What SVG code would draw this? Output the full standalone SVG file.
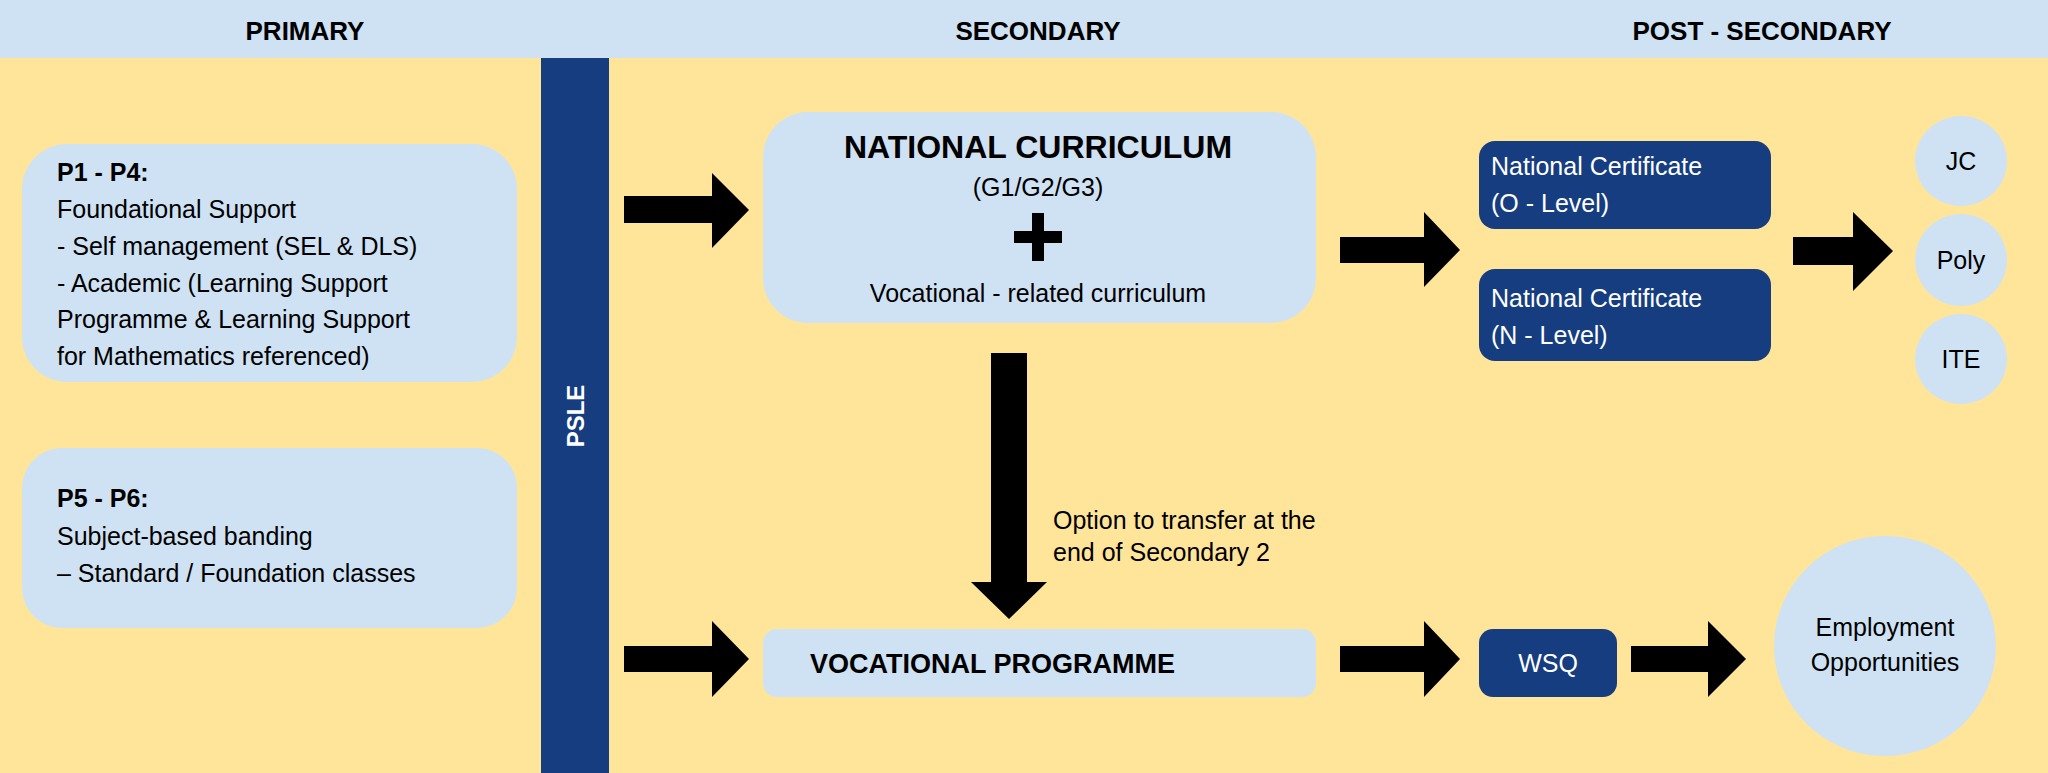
<svg xmlns="http://www.w3.org/2000/svg" width="2048" height="773" viewBox="0 0 2048 773">
<defs><style>
text{font-family:"Liberation Sans",Arial,sans-serif;fill:#000}
.h{font-size:26px;font-weight:bold;text-anchor:middle}
.t{font-size:25px}
.b{font-weight:bold}
.w{fill:#fff}
.lb{fill:#cfe2f3}
.db{fill:#163d80}
.ar{fill:#000}
</style></defs>
<rect width="2048" height="773" fill="#ffe599"/>
<rect width="2048" height="58" class="lb"/>
<text class="h" x="305" y="40">PRIMARY</text>
<text class="h" x="1038" y="40">SECONDARY</text>
<text class="h" x="1762" y="40">POST - SECONDARY</text>
<g id="psle"><rect x="541" y="58" width="68" height="715" class="db"/>
<text class="w b" font-size="24" text-anchor="middle" transform="translate(584,416) rotate(-90)">PSLE</text></g>
<g id="p1p4"><rect x="22" y="144" width="495" height="238" rx="45" class="lb"/>
<text class="t" x="57" y="181"><tspan class="b">P1 - P4:</tspan><tspan x="57" dy="37">Foundational Support</tspan><tspan x="57" dy="37">- Self management (SEL &amp; DLS)</tspan><tspan x="57" dy="37">- Academic (Learning Support</tspan><tspan x="57" dy="36">Programme &amp; Learning Support</tspan><tspan x="57" dy="37">for Mathematics referenced)</tspan></text></g>
<g id="p5p6"><rect x="22" y="448" width="495" height="180" rx="40" class="lb"/>
<text class="t" x="57" y="507"><tspan class="b">P5 - P6:</tspan><tspan x="57" dy="38">Subject-based banding</tspan><tspan x="57" dy="37">– Standard / Foundation classes</tspan></text></g>
<g id="nc"><rect x="763" y="112" width="553" height="211" rx="45" class="lb"/>
<text class="b" font-size="32" x="1038" y="158" text-anchor="middle">NATIONAL CURRICULUM</text>
<text class="t" x="1038" y="196" text-anchor="middle">(G1/G2/G3)</text>
<path d="M1032 213h12v18h18v12h-18v18h-12v-18h-18v-12h18z" fill="#000"/>
<text class="t" x="1038" y="302" text-anchor="middle">Vocational - related curriculum</text></g>
<g id="vp"><rect x="763" y="629" width="553" height="68" rx="14" class="lb"/>
<text class="b" font-size="27" x="810" y="673">VOCATIONAL PROGRAMME</text></g>
<g id="certO"><rect x="1479" y="141" width="292" height="88" rx="16" class="db"/>
<text class="t w" x="1491" y="175"><tspan>National Certificate</tspan><tspan x="1491" dy="37">(O - Level)</tspan></text></g>
<g id="certN"><rect x="1479" y="269" width="292" height="92" rx="16" class="db"/>
<text class="t w" x="1491" y="307"><tspan>National Certificate</tspan><tspan x="1491" dy="37">(N - Level)</tspan></text></g>
<g id="jc"><ellipse cx="1961" cy="161" rx="46" ry="45" class="lb"/><text class="t" x="1961" y="170" text-anchor="middle">JC</text></g>
<g id="poly"><ellipse cx="1961" cy="260" rx="46" ry="46" class="lb"/><text class="t" x="1961" y="269" text-anchor="middle">Poly</text></g>
<g id="ite"><ellipse cx="1961" cy="359" rx="46" ry="45" class="lb"/><text class="t" x="1961" y="368" text-anchor="middle">ITE</text></g>
<g id="wsq"><rect x="1479" y="629" width="138" height="68" rx="14" class="db"/><text class="t w" x="1548" y="672" text-anchor="middle">WSQ</text></g>
<g id="emp"><ellipse cx="1885" cy="646" rx="111" ry="110" class="lb"/>
<text class="t" x="1885" y="636" text-anchor="middle"><tspan>Employment</tspan><tspan x="1885" dy="35">Opportunities</tspan></text></g>
<text class="t" font-size="23" x="1053" y="529"><tspan>Option to transfer at the</tspan><tspan x="1053" dy="32">end of Secondary 2</tspan></text>
<g id="connectors" class="ar">
<path d="M624 196h88v-23l37 37-37 38v-25h-88z"/>
<path d="M624 646h88v-25l37 38-37 38v-25h-88z"/>
<path d="M1340 237h84v-25l36 38-36 37v-24h-84z"/>
<path d="M1793 237h60v-25l40 39-40 40v-26h-60z"/>
<path d="M1340 646h84v-25l36 38-36 38v-25h-84z"/>
<path d="M1631 646h77v-25l38 38-38 38v-25h-77z"/>
<path d="M991 353h36v229h20l-38 37-38-37h20z"/>
</g>
</svg>
